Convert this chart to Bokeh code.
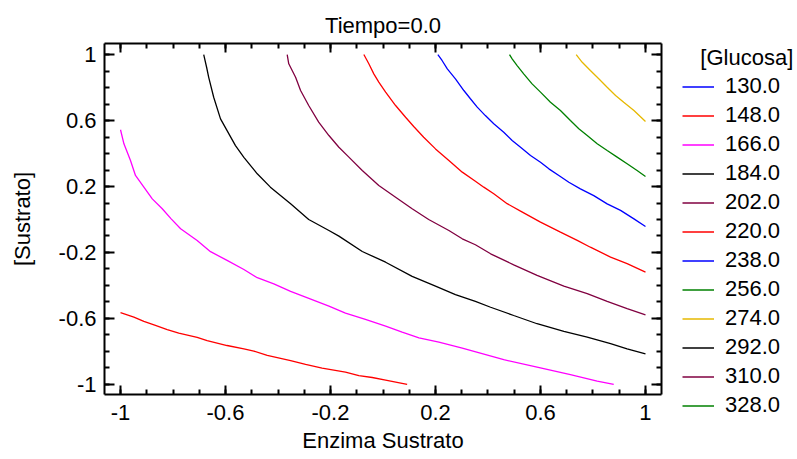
from bokeh.plotting import figure
from bokeh.layouts import row, column
from bokeh.models import (Range1d, LinearAxis, FixedTicker, Legend, LegendItem,
                          CustomJSTickFormatter)
from bokeh.embed import file_html
from bokeh.resources import INLINE

NaN = float("nan")

# ---------------- data ----------------
levels = ["130.0", "148.0", "166.0", "184.0", "202.0", "220.0",
          "238.0", "256.0", "274.0", "292.0", "310.0", "328.0"]
colors = ["#0000FF", "#FF0000", "#FF00FF", "#000000", "#800040", "#FF0000",
          "#0000FF", "#008000", "#E6B800", "#000000", "#800040", "#008000"]

# levels 130, 292, 310, 328 do not cross the plotted region (legend only)
x_130 = []
y_130 = []

x_148 = [-1.0, -0.949, -0.911, -0.867, -0.822, -0.778, -0.708, -0.670, -0.594, -0.530,
         -0.492, -0.441, -0.352, -0.295, -0.232, -0.143, -0.092, -0.041, 0.010, 0.092]
y_148 = [-0.565, -0.592, -0.618, -0.642, -0.667, -0.689, -0.715, -0.735, -0.764, -0.784,
         -0.798, -0.824, -0.855, -0.879, -0.901, -0.925, -0.947, -0.958, -0.974, -1.0]

x_166 = [-1.0, -0.987, -0.962, -0.943, -0.911, -0.879, -0.841, -0.807, -0.771, -0.708,
         -0.657, -0.594, -0.530, -0.479, -0.416, -0.352, -0.295, -0.206, -0.143, -0.067,
         0.010, 0.073, 0.137, 0.213, 0.302, 0.460, 0.587, 0.714, 0.816, 0.879]
y_166 = [0.544, 0.459, 0.358, 0.267, 0.196, 0.125, 0.065, 0.004, -0.056, -0.127,
         -0.195, -0.248, -0.303, -0.353, -0.390, -0.436, -0.471, -0.525, -0.568, -0.606,
         -0.647, -0.683, -0.717, -0.744, -0.780, -0.850, -0.895, -0.941, -0.980, -1.0]

x_184 = [-0.683, -0.672, -0.664, -0.645, -0.619, -0.594, -0.562, -0.530, -0.479, -0.429,
         -0.352, -0.283, -0.206, -0.168, -0.079, 0.010, 0.111, 0.200, 0.276, 0.352,
         0.410, 0.498, 0.587, 0.689, 0.778, 0.867, 0.930, 1.0]
y_184 = [1.0, 0.923, 0.862, 0.741, 0.610, 0.539, 0.448, 0.377, 0.277, 0.196,
         0.095, 0.0, -0.067, -0.101, -0.194, -0.259, -0.345, -0.404, -0.455, -0.497,
         -0.532, -0.582, -0.632, -0.679, -0.713, -0.753, -0.784, -0.814]

x_202 = [-0.365, -0.359, -0.333, -0.314, -0.283, -0.245, -0.206, -0.168, -0.130, -0.079,
         -0.016, 0.048, 0.111, 0.174, 0.251, 0.302, 0.352, 0.410, 0.498, 0.587,
         0.689, 0.778, 0.854, 0.930, 1.0]
y_202 = [1.0, 0.944, 0.862, 0.782, 0.691, 0.590, 0.509, 0.438, 0.378, 0.297,
         0.206, 0.135, 0.065, 0.0, -0.067, -0.117, -0.153, -0.208, -0.275, -0.339,
         -0.404, -0.450, -0.497, -0.541, -0.578]

x_220 = [-0.073, -0.054, -0.035, -0.016, 0.010, 0.048, 0.086, 0.117, 0.155, 0.200,
         0.251, 0.302, 0.352, 0.384, 0.422, 0.473, 0.524, 0.600, 0.676, 0.740,
         0.790, 0.867, 0.930, 1.0]
y_220 = [1.0, 0.944, 0.883, 0.833, 0.772, 0.691, 0.620, 0.564, 0.499, 0.428,
         0.358, 0.287, 0.232, 0.196, 0.156, 0.096, 0.051, -0.016, -0.077, -0.127,
         -0.168, -0.228, -0.268, -0.319]

x_238 = [0.209, 0.225, 0.245, 0.276, 0.308, 0.333, 0.359, 0.390, 0.422, 0.460,
         0.492, 0.524, 0.562, 0.600, 0.632, 0.670, 0.708, 0.752, 0.803, 0.854,
         0.905, 0.956, 1.0]
y_238 = [1.0, 0.964, 0.913, 0.853, 0.782, 0.732, 0.681, 0.630, 0.580, 0.529,
         0.479, 0.438, 0.388, 0.347, 0.307, 0.267, 0.226, 0.186, 0.145, 0.095,
         0.055, 0.004, -0.042]

x_256 = [0.482, 0.492, 0.511, 0.536, 0.568, 0.600, 0.638, 0.676, 0.714, 0.746,
         0.778, 0.816, 0.854, 0.892, 0.930, 0.968, 1.0]
y_256 = [1.0, 0.974, 0.933, 0.883, 0.822, 0.772, 0.711, 0.661, 0.600, 0.550,
         0.509, 0.459, 0.418, 0.378, 0.338, 0.297, 0.261]

x_274 = [0.736, 0.759, 0.790, 0.822, 0.854, 0.886, 0.917, 0.956, 1.0]
y_274 = [1.0, 0.953, 0.903, 0.853, 0.802, 0.752, 0.711, 0.661, 0.594]

x_292 = []
y_292 = []
x_310 = []
y_310 = []
x_328 = []
y_328 = []

xs = [x_130, x_148, x_166, x_184, x_202, x_220, x_238, x_256, x_274, x_292, x_310, x_328]
ys = [y_130, y_148, y_166, y_184, y_202, y_220, y_238, y_256, y_274, y_292, y_310, y_328]

major_ticks = [-1, -0.6, -0.2, 0.2, 0.6, 1]
minor_ticks = [round(-1 + 0.1 * i, 1) for i in range(21)]

# placeholder (no visible point) so that each legend entry has a renderer
legend_placeholder = [NaN]

FONT = "Liberation Sans"

# ---------------- main figure ----------------
p = figure(width=663, height=459, output_backend="svg", toolbar_location=None,
           x_range=Range1d(-1.061, 1.061), y_range=Range1d(-1.061, 1.067),
           min_border_left=104, min_border_right=2, min_border_top=43,
           min_border_bottom=65, x_axis_location=None, y_axis_location=None)
p.outline_line_color = None
p.xgrid.visible = False
p.ygrid.visible = False

p.title.text = "Tiempo=0.0"
p.title.align = "center"
p.title.text_font = FONT
p.title.text_font_size = "22px"
p.title.text_font_style = "normal"
p.title.text_color = "black"
p.title.standoff = 11

bottom_axis = LinearAxis(axis_label="Enzima Sustrato")
left_axis = LinearAxis(axis_label="[Sustrato]")
top_axis = LinearAxis()
right_axis = LinearAxis()
p.add_layout(bottom_axis, "below")
p.add_layout(left_axis, "left")
p.add_layout(top_axis, "above")
p.add_layout(right_axis, "right")

for ax in [bottom_axis, left_axis, top_axis, right_axis]:
    ax.ticker = FixedTicker(ticks=major_ticks, minor_ticks=minor_ticks)
    ax.axis_line_width = 2
    ax.axis_line_color = "black"
    ax.major_tick_out = 0
    ax.minor_tick_out = 0
    ax.major_tick_in = 9
    ax.minor_tick_in = 5
    ax.major_tick_line_width = 2
    ax.minor_tick_line_width = 2
    ax.major_tick_line_color = "black"
    ax.minor_tick_line_color = "black"
    ax.major_label_text_font = FONT
    ax.major_label_text_font_size = "22px"
    ax.major_label_text_color = "black"
    ax.axis_label_text_font = FONT
    ax.axis_label_text_font_size = "22px"
    ax.axis_label_text_font_style = "normal"
    ax.axis_label_text_color = "black"

left_axis.major_tick_in = 10
right_axis.major_tick_in = 10

for ax in [bottom_axis, left_axis]:
    ax.formatter = CustomJSTickFormatter(code="return tick.toString();")
for ax in [top_axis, right_axis]:
    ax.formatter = CustomJSTickFormatter(code="return '';")
    ax.major_label_standoff = 0

bottom_axis.major_label_standoff = 10
bottom_axis.axis_label_standoff = 5
left_axis.major_label_standoff = 8
left_axis.axis_label_standoff = 21

for col, xv, yv in zip(colors, xs, ys):
    p.line(xv, yv, line_color=col, line_width=1.3)

# ---------------- legend panel ----------------
pl = figure(width=134, height=459, output_backend="svg", toolbar_location=None,
            title=None, min_border=0, min_border_top=0, min_border_bottom=0,
            min_border_left=0, min_border_right=0,
            x_axis_location=None, y_axis_location=None,
            x_range=Range1d(0, 1), y_range=Range1d(0, 1))
pl.outline_line_color = None
pl.xgrid.visible = False
pl.ygrid.visible = False

items = []
for lev, col in zip(levels, colors):
    r = pl.line(legend_placeholder, legend_placeholder, line_color=col, line_width=1.3)
    items.append(LegendItem(label=lev, renderers=[r]))

legend = Legend(items=items, location=(19, 41), padding=0, margin=0,
                border_line_alpha=0, background_fill_alpha=0,
                title="\u00a0\u00a0\u00a0[Glucosa]", title_text_font=FONT,
                title_text_font_size="22px",
                title_text_font_style="normal", title_text_color="black",
                title_standoff=2,
                label_text_font=FONT, label_text_font_size="22px",
                label_text_color="black", label_width=72,
                glyph_width=32, glyph_height=25, label_height=25,
                spacing=3, label_standoff=11)
pl.add_layout(legend)

layout = row(p, column(pl, spacing=0), spacing=0)
open("out.html", "w").write(file_html(layout, INLINE))
